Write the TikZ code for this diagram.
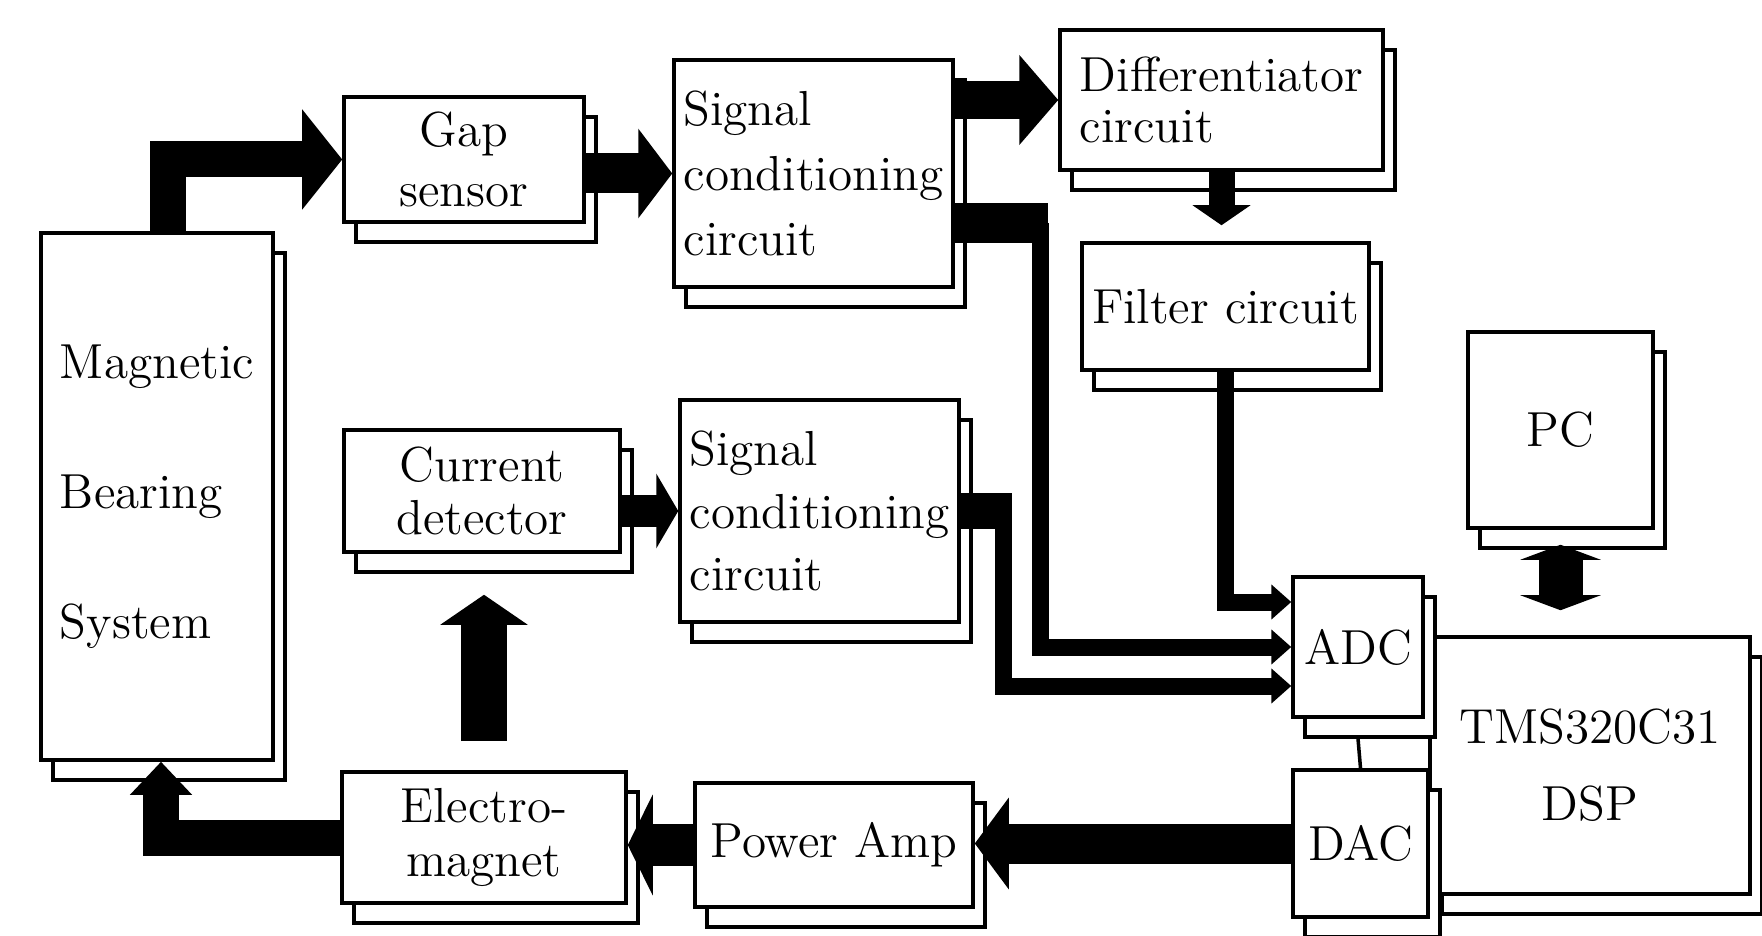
\documentclass[tikz,border=0pt]{standalone}
\usepackage{fontspec}
\usepackage{tikz}
\usetikzlibrary{arrows.meta,positioning,shadows,calc}

\begin{document}
\begin{tikzpicture}[
  blk/.style={draw, fill=white, line width=1pt, inner sep=0pt,
              copy shadow={shadow xshift=0.12cm, shadow yshift=-0.2cm},
              font=\fontsize{14}{17}\selectfont, align=center},
  lblk/.style={blk, align=left},
  bigarr/.style={draw=black, line join=miter},
  feed/.style={line width=0.17cm, line join=miter,
               -{Triangle[width=0.34cm,length=0.2cm]}}
]
\useasboundingbox (0,0) rectangle (17.62,-9.36);

% blocks
\node[lblk, minimum width=2.32cm, minimum height=5.27cm,
      font=\fontsize{14}{37}\selectfont] (mbs) at (1.57,-4.965)
  {Magnetic\\Bearing\\System};
\node[blk, minimum width=2.40cm, minimum height=1.25cm] (gap) at (4.64,-1.595)
  {Gap\\sensor};
\node[lblk, minimum width=2.79cm, minimum height=2.27cm,
      font=\fontsize{14}{18.5}\selectfont] (sc1) at (8.135,-1.735)
  {Signal\\conditioning\\circuit};
\node[lblk, minimum width=3.23cm, minimum height=1.40cm,
      font=\fontsize{14}{14.5}\selectfont] (diff) at (12.215,-1.00)
  {Differentiator\\circuit};
\node[blk, minimum width=2.87cm, minimum height=1.27cm] (filt) at (12.255,-3.065)
  {Filter circuit};
\node[blk, minimum width=1.85cm, minimum height=1.96cm] (pc) at (15.605,-4.30)
  {PC};
\node[blk, minimum width=2.76cm, minimum height=1.22cm,
      font=\fontsize{14}{15}\selectfont] (cd) at (4.82,-4.91)
  {Current\\detector};
\node[lblk, minimum width=2.79cm, minimum height=2.22cm,
      font=\fontsize{14}{17.8}\selectfont] (sc2) at (8.195,-5.11)
  {Signal\\conditioning\\circuit};
\node[blk, minimum width=2.84cm, minimum height=1.31cm,
      font=\fontsize{14}{15.3}\selectfont] (em) at (4.84,-8.375)
  {Electro-\\magnet};
\node[blk, minimum width=2.78cm, minimum height=1.24cm] (pa) at (8.34,-8.45)
  {Power Amp};
\node[blk, minimum width=3.20cm, minimum height=2.57cm,
      font=\fontsize{14}{21.8}\selectfont] (dsp) at (15.90,-7.655)
  {TMS320C31\\DSP};
\node[blk, minimum width=1.30cm, minimum height=1.40cm] (adc) at (13.58,-6.47)
  {ADC};
\node[blk, minimum width=1.35cm, minimum height=1.47cm] (dac) at (13.605,-8.435)
  {DAC};

% measuring path
\draw[bigarr, line width=0.36cm, -{Triangle[width=0.98cm,length=0.40cm]}]
  ([xshift=0.11cm]mbs.north) |- (gap.west);
\draw[bigarr, line width=0.40cm, -{Triangle[width=0.88cm,length=0.34cm]}]
  (gap.east |- sc1.west) -- (sc1.west);
\draw[bigarr, line width=0.38cm, -{Triangle[width=0.88cm,length=0.39cm]}]
  (sc1.east |- diff.west) -- (diff.west);
\draw[bigarr, line width=0.26cm, -{Triangle[width=0.57cm,length=0.20cm]}]
  (diff.south) -- ([yshift=0.16cm]diff.south |- filt.north);
\coordinate (sc1out) at ([xshift=0.86cm,yshift=-0.5cm]sc1.east);
\draw[line width=0.40cm] ([yshift=-0.5cm]sc1.east) -- ([xshift=0.07cm]sc1out);
\draw[feed] (sc1out) |- (adc.west);
\draw[feed] (filt.south) |- ([yshift=0.45cm]adc.west);
\draw[bigarr, line width=0.32cm, -{Triangle[width=0.74cm,length=0.22cm]}]
  (cd.east |- sc2.west) -- (sc2.west);
\coordinate (sc2out) at ([xshift=0.43cm]sc2.east);
\draw[line width=0.35cm] (sc2.east) -- ([xshift=0.08cm]sc2out);
\draw[feed] (sc2out) |- ([yshift=-0.39cm]adc.west);

% driving path
\draw[bigarr, line width=0.40cm, -{Triangle[width=0.90cm,length=0.34cm]}]
  (dac.west) -- (dac.west -| pa.east);
\draw[bigarr, line width=0.42cm, -{Triangle[width=1.00cm,length=0.25cm]}]
  (pa.west) -- (pa.west -| em.east);
\draw[bigarr, line width=0.36cm, -{Triangle[width=0.60cm,length=0.33cm]}]
  (em.west) -| ([xshift=0.04cm]mbs.south);
\draw[bigarr, line width=0.46cm, -{Triangle[width=0.86cm,length=0.30cm]}]
  ([yshift=0.29cm]em.north) -- ([yshift=-0.41cm]em.north |- cd.south);
\draw[bigarr, line width=0.44cm,
      {Triangle[width=0.80cm,length=0.15cm]}-{Triangle[width=0.80cm,length=0.15cm]}]
  ([yshift=-0.15cm]pc.south) -- ([yshift=0.25cm]pc.south |- dsp.north);
\draw[line width=1pt] ([yshift=-0.2cm]adc.south) -- (dac.north);
\end{tikzpicture}
\end{document}
